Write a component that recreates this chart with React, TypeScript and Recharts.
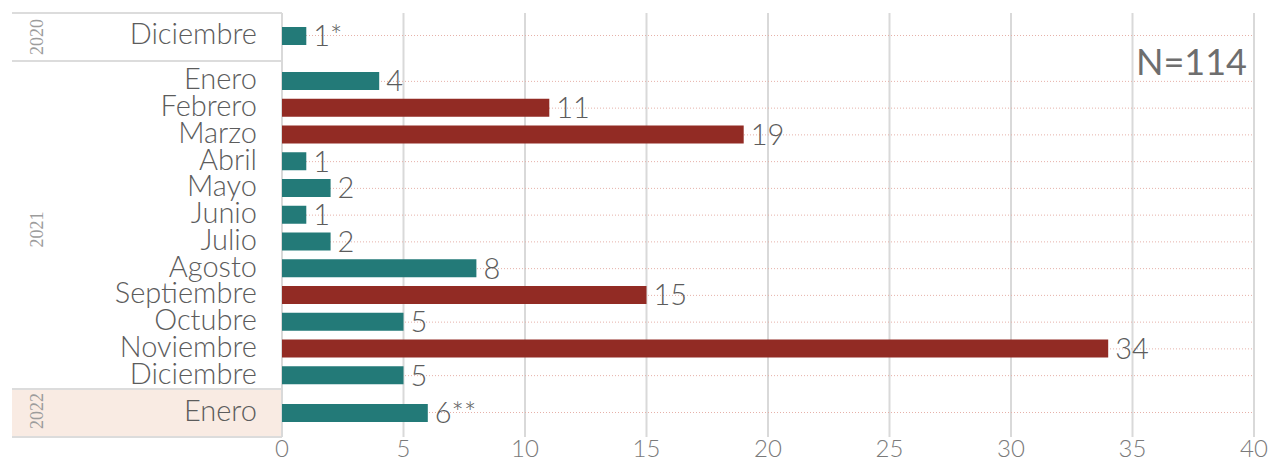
import React from 'react';
import { BarChart, Bar, XAxis, YAxis, CartesianGrid, LabelList, Cell } from 'recharts';

// ---------- data ----------
const months2020 = ['Diciembre'];
const values2020 = [1];
const labels2020 = ['1*'];

const months2021 = ['Enero', 'Febrero', 'Marzo', 'Abril', 'Mayo', 'Junio', 'Julio', 'Agosto', 'Septiembre', 'Octubre', 'Noviembre', 'Diciembre'];
const values2021 = [4, 11, 19, 1, 2, 1, 2, 8, 15, 5, 34, 5];
const labels2021 = ['4', '11', '19', '1', '2', '1', '2', '8', '15', '5', '34', '5'];
const highlighted2021 = ['Febrero', 'Marzo', 'Septiembre', 'Noviembre'];

const months2022 = ['Enero'];
const values2022 = [6];
const labels2022 = ['6**'];

const xTicks = [0, 5, 10, 15, 20, 25, 30, 35, 40];
const yearLabels = ['2020', '2021', '2022'];
const totalLabel = 'N=114';

// ---------- style ----------
const FONT = 'Lato, "Open Sans", sans-serif';
const TEAL = '#237a78';
const RED = '#922b24';
const GRID = '#d9d9d9';
const DOT = '#e6b1a9';
const W = 1270;
const AXIS_W = 282;
const RIGHT = 16;

const YTick = (props: any) => {
  const { x, y, payload } = props;
  return (
    <text x={x} y={y} dy={8} textAnchor="end" fill="#5c5c5c" fontSize={29} fontFamily={FONT} fontWeight={300}>
      {payload.value}
    </text>
  );
};

// dotted lines through the middle of each category band
const makeCenterLines = (count: number, padTop: number, padBottom: number) => (props: any) => {
  const yAxis = props && props.yAxis;
  const s = yAxis && yAxis.scale;
  try {
    if (typeof s === 'function' && typeof s.bandwidth === 'function' && typeof s.domain === 'function') {
      const bw = s.bandwidth();
      return s.domain().map((d: any) => s(d) + bw / 2);
    }
  } catch (e) {
    // fall through
  }
  const off = props && props.offset;
  if (!off) return [];
  const top = off.top + padTop;
  const band = (off.height - padTop - padBottom) / count;
  return Array.from({ length: count }, (_, i) => top + band * (i + 0.5));
};

type PanelProps = {
  months: string[];
  values: number[];
  labels: string[];
  highlighted: string[];
  top: number;
  plotHeight: number;
  showX: boolean;
  padTop: number;
  padBottom: number;
};

function Panel({ months, values, labels, highlighted, top, plotHeight, showX, padTop, padBottom }: PanelProps) {
  const data = months.map((m, i) => ({ month: m, value: values[i], label: labels[i], hi: highlighted.includes(m) }));
  const xH = showX ? 30 : 0;
  const h = plotHeight + xH;
  return (
    <div style={{ position: 'absolute', left: 0, top, width: W, height: h }}>
      <BarChart
        width={W}
        height={h}
        data={data}
        layout="vertical"
        margin={{ top: 0, right: RIGHT, bottom: 0, left: 0 }}
        style={{ overflow: 'visible' }}
      >
        <CartesianGrid horizontal={false} vertical={true} stroke={GRID} strokeWidth={2} />
        <CartesianGrid
          horizontal={true}
          vertical={false}
          stroke={DOT}
          strokeDasharray="1 2"
          horizontalCoordinatesGenerator={makeCenterLines(months.length, padTop, padBottom)}
        />
        <XAxis
          type="number"
          domain={[0, 40]}
          ticks={xTicks}
          interval={0}
          hide={!showX}
          height={30}
          axisLine={false}
          tickLine={false}
          tickSize={0}
          tickMargin={3}
          tick={{ fill: '#7a7a7a', fontSize: 24, fontFamily: FONT, fontWeight: 300 }}
        />
        <YAxis
          type="category"
          dataKey="month"
          width={AXIS_W}
          interval={0}
          axisLine={false}
          tickLine={false}
          tickSize={0}
          tickMargin={25}
          padding={{ top: padTop, bottom: padBottom }}
          tick={<YTick />}
        />
        <Bar dataKey="value" barSize={18} isAnimationActive={false}>
          {data.map((d) => (
            <Cell key={d.month} fill={d.hi ? RED : TEAL} />
          ))}
          <LabelList dataKey="label" position="right" offset={7} fill="#5c5c5c" fontSize={29} fontFamily={FONT} fontWeight={300} />
        </Bar>
      </BarChart>
    </div>
  );
}

export default function App() {
  return (
    <div style={{ position: 'absolute', left: 0, top: 0, width: W, height: 457, overflow: 'hidden', background: '#ffffff' }}>
      <svg width={W} height={457} style={{ position: 'absolute', left: 0, top: 0 }}>
        <rect x={12} y={389} width={270} height={48} fill="#f9ebe3" />
        <line x1={12} x2={282} y1={13} y2={13} stroke="#dcdcdc" strokeWidth={2} />
        <line x1={12} x2={282} y1={61} y2={61} stroke="#dcdcdc" strokeWidth={2} />
        <line x1={12} x2={282} y1={389} y2={389} stroke="#dcdcdc" strokeWidth={2} />
        <line x1={12} x2={282} y1={437} y2={437} stroke="#dcdcdc" strokeWidth={2} />
      </svg>
      <Panel months={months2020} values={values2020} labels={labels2020} highlighted={[]} top={13} plotHeight={48} showX={false} padTop={0} padBottom={3} />
      <Panel months={months2021} values={values2021} labels={labels2021} highlighted={highlighted2021} top={61} plotHeight={328} showX={false} padTop={7} padBottom={0} />
      <Panel months={months2022} values={values2022} labels={labels2022} highlighted={[]} top={389} plotHeight={48} showX={true} padTop={0} padBottom={1} />
      <svg width={W} height={457} style={{ position: 'absolute', left: 0, top: 0, pointerEvents: 'none' }}>
        <text x={1247} y={75} textAnchor="end" fill="#6e6e6e" fontSize={36} fontFamily={FONT}>
          {totalLabel}
        </text>
        {[37, 229.5, 411].map((cy, i) => (
          <text
            key={yearLabels[i]}
            transform={`translate(37, ${cy}) rotate(-90)`}
            textAnchor="middle"
            dy="0.33em"
            fill="#9c9c9c"
            fontSize={18}
            fontFamily={'"Liberation Serif", serif'}
          >
            {yearLabels[i]}
          </text>
        ))}
      </svg>
    </div>
  );
}
